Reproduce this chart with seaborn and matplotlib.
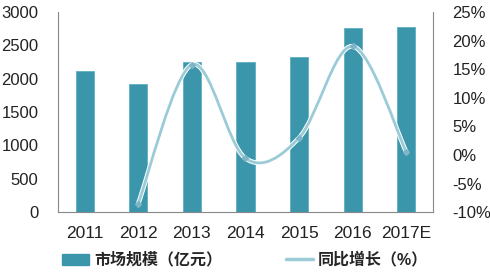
import numpy as np
import pandas as pd
import seaborn as sns
import matplotlib
matplotlib.use("Agg")
import matplotlib.pyplot as plt
from matplotlib.path import Path
from matplotlib.patches import PathPatch, Patch
from matplotlib.lines import Line2D

years = ["2011", "2012", "2013", "2014", "2015", "2016", "2017E"]
market_size = [2115, 1920, 2250, 2250, 2325, 2760, 2775]
growth = [None, -8.5, 15.8, -0.6, 3.0, 19.0, 0.5]
left_ticks = [0, 500, 1000, 1500, 2000, 2500, 3000]
right_ticks = [-10, -5, 0, 5, 10, 15, 20, 25]
label_bar = "市场规模（亿元）"
label_line = "同比增长（%）"

sns.set_style("white")
plt.rcParams['font.family'] = ['Liberation Sans', 'Noto Sans CJK SC', 'DejaVu Sans']

BAR_C = "#3b96ac"
LINE_C = "#9ccbd8"

fig = plt.figure(figsize=(4.9, 2.74), dpi=100)
ax = fig.add_axes([0.118, 0.226, 0.766, 0.730])
df = pd.DataFrame({"year": years, "size": market_size})
sns.barplot(data=df, x="year", y="size", color=BAR_C, width=0.34, ax=ax,
            saturation=1, edgecolor="#5fb0c3", linewidth=0.6)
ax.set_xlim(-0.5, 6.5)
ax.set_ylim(0, 3000)
ax.set_yticks(left_ticks)
ax.set_xlabel("")
ax.set_ylabel("")
for s in ["top", "right"]:
    ax.spines[s].set_visible(False)
ax.spines["left"].set_color("#888888")
ax.spines["bottom"].set_color("#888888")
ax.tick_params(axis="x", labelsize=12.5, colors="#222222", length=0, pad=10)
ax.tick_params(axis="y", labelsize=12, colors="#222222", length=0, pad=14)

ax2 = ax.twinx()
ax2.set_ylim(-10, 25)
ax2.set_yticks(right_ticks)
ax2.set_yticklabels([f"{t}%" for t in right_ticks])
ax2.tick_params(axis="y", labelsize=12, colors="#222222", length=0, pad=14)
for s in ["top", "left", "bottom"]:
    ax2.spines[s].set_visible(False)
ax2.spines["right"].set_color("#888888")

# smooth curve (Excel-like) through growth points
pts = [(i, g) for i, g in enumerate(growth) if g is not None]
P = np.array(pts, dtype=float)
verts = [tuple(P[0])]
codes = [Path.MOVETO]
n = len(P)
for i in range(n - 1):
    p0 = P[i - 1] if i > 0 else P[i]
    p1 = P[i]
    p2 = P[i + 1]
    p3 = P[i + 2] if i + 2 < n else P[i + 1]
    c1 = p1 + (p2 - p0) / 6.0
    c2 = p2 - (p3 - p1) / 6.0
    verts += [tuple(c1), tuple(c2), tuple(p2)]
    codes += [Path.CURVE4] * 3
path = Path(verts, codes)
ax2.add_patch(PathPatch(path, facecolor="none", edgecolor="white", lw=3.4, zorder=3))
ax2.add_patch(PathPatch(path, facecolor="none", edgecolor=LINE_C, lw=2.0, zorder=4))
ax2.plot(P[:, 0], P[:, 1], linestyle="none", marker="D", markersize=3,
         color="#7fb6c7", zorder=5)

handles = [Patch(facecolor=BAR_C, edgecolor=BAR_C),
           Line2D([0], [0], color=LINE_C, lw=2.5)]
fig.legend(handles, [label_bar, label_line], loc="lower center",
           bbox_to_anchor=(0.5, -0.03), ncol=2, frameon=False,
           prop={"size": 11.5, "weight": "bold"},
           columnspacing=4.0, handlelength=1.7, handletextpad=0.3)

fig.savefig("out.png", dpi=100)
